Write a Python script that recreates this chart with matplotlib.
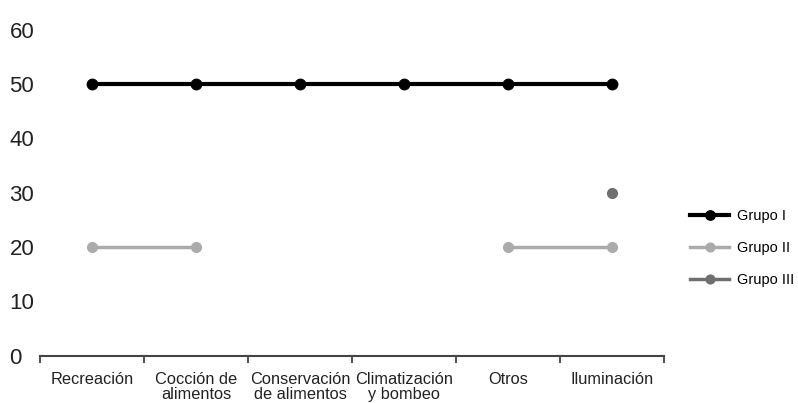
import numpy as np
import matplotlib
matplotlib.use("Agg")
import matplotlib.pyplot as plt

plt.rcParams['font.family'] = ['Liberation Sans', 'DejaVu Sans']

# categories and series
categorias = ['Recreación', 'Cocción de\nalimentos', 'Conservación\nde alimentos',
              'Climatización\ny bombeo', 'Otros', 'Iluminación']
grupo1 = [50, 50, 50, 50, 50, 50]
grupo2 = [20, 20, np.nan, np.nan, 20, 20]
grupo3 = [np.nan, np.nan, np.nan, np.nan, np.nan, 30]
yticks = [0, 10, 20, 30, 40, 50, 60]

fig = plt.figure(figsize=(7.98, 4.03), dpi=100)
ax = fig.add_axes([40/798, 1 - 355.8/403, 624/798, (355.8 - 29.7)/403])

x = np.arange(len(categorias))
ax.plot(x, grupo1, color='black', lw=3, marker='o', ms=7.5, label='Grupo I', clip_on=False)
ax.plot(x, grupo2, color='#ababab', lw=2.5, marker='o', ms=7, label='Grupo II', clip_on=False)
ax.plot(x, grupo3, color='#6f6f6f', lw=2.5, marker='o', ms=7, label='Grupo III', clip_on=False)

ax.set_xlim(-0.5, len(categorias) - 0.5)
ax.set_ylim(0, 60)

for s in ['top', 'right', 'left']:
    ax.spines[s].set_visible(False)
ax.spines['bottom'].set_color('#444444')
ax.spines['bottom'].set_linewidth(1.5)

# boundary ticks with labels in between
ax.set_xticks(np.arange(-0.5, len(categorias)), minor=False)
ax.set_xticklabels([])
ax.set_xticks(x, minor=True)
ax.set_xticklabels(categorias, minor=True, fontsize=11.8, color='#222222',
                   va='top', linespacing=1.0)
ax.tick_params(axis='x', which='major', length=5, width=1.3, color='#444444', direction='out')
ax.tick_params(axis='x', which='minor', length=0, pad=12)

ax.set_yticks(yticks)
ax.set_yticklabels([str(v) for v in yticks], fontsize=16, color='#222222')
ax.tick_params(axis='y', length=0, pad=22)
for lab in ax.get_yticklabels():
    lab.set_horizontalalignment('left')

fig.legend(loc='center left', bbox_to_anchor=(690/798, 1 - 248/403), frameon=False,
           fontsize=10.5, handlelength=2.7, handletextpad=0.55, labelspacing=1.25,
           borderpad=0, borderaxespad=0, markerscale=0.9)

fig.savefig('out.png', dpi=100)
